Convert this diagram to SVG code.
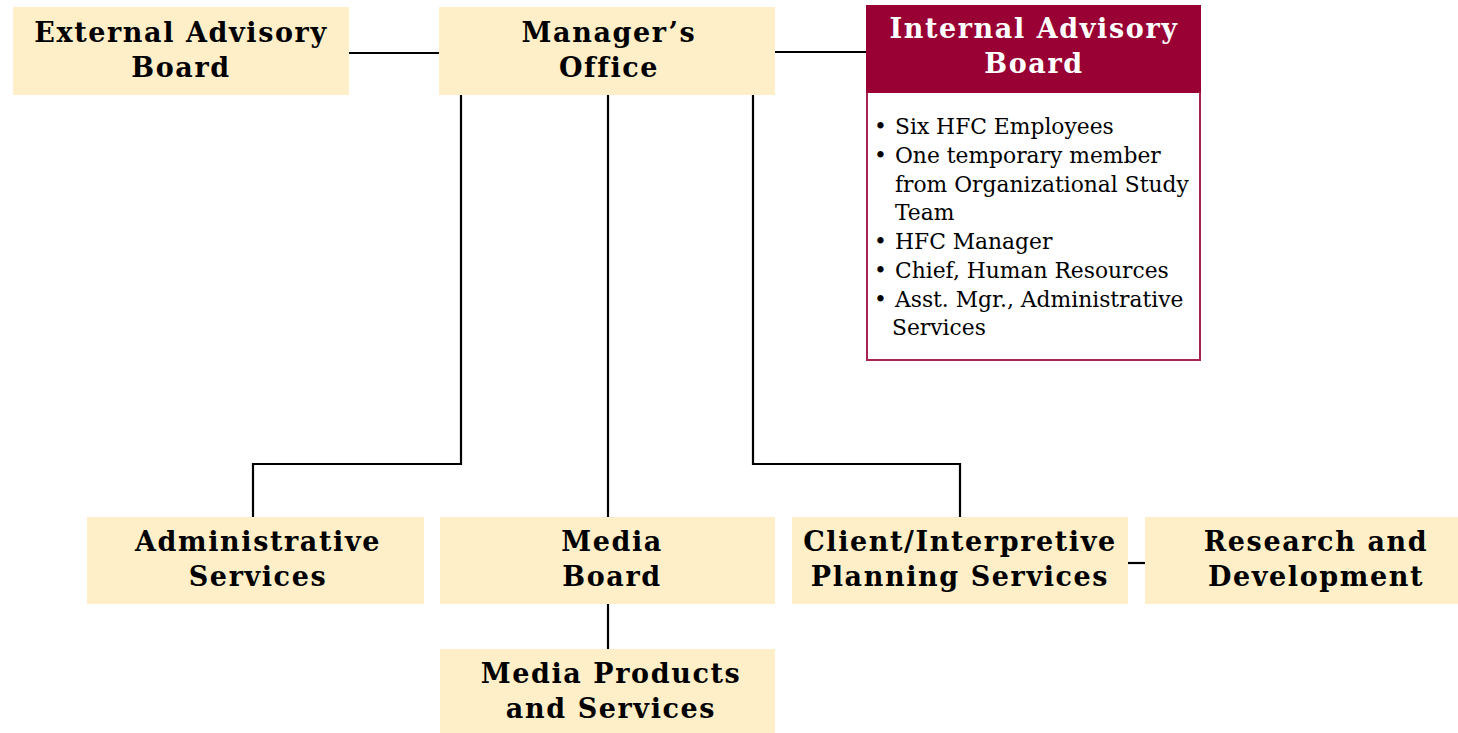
<svg xmlns="http://www.w3.org/2000/svg" width="1458" height="733" viewBox="0 0 1458 733">
<style>
.box{fill:#FEEFC8}
.t{font-family:"DejaVu Serif","Liberation Serif",serif;font-weight:bold;font-size:27px;letter-spacing:1.6px;text-anchor:middle;fill:#000}
.w{fill:#fff}
.b{font-family:"DejaVu Serif","Liberation Serif",serif;font-size:21.8px;fill:#000}
.c{stroke:#000;stroke-width:2.2;fill:none}
</style>
<rect width="1458" height="733" fill="#fff"/>
<g id="connectors">
<line class="c" x1="349" y1="53" x2="439" y2="53"/>
<line class="c" x1="775" y1="52" x2="866" y2="52"/>
<polyline class="c" points="461,95 461,464 253,464 253,517"/>
<line class="c" x1="608" y1="95" x2="608" y2="517"/>
<polyline class="c" points="753,95 753,464 960,464 960,517"/>
<line class="c" x1="608" y1="604" x2="608" y2="649"/>
<line class="c" x1="1128" y1="563" x2="1145" y2="563"/>
</g>
<g id="external">
<rect class="box" x="13" y="7" width="336" height="88"/>
<text class="t" x="181" y="42">External Advisory</text>
<text class="t" x="181" y="77">Board</text>
</g>
<g id="manager">
<rect class="box" x="439" y="7" width="336" height="88"/>
<text class="t" x="609" y="42">Manager’s</text>
<text class="t" x="609" y="77">Office</text>
</g>
<g id="internal">
<rect x="867" y="92" width="333" height="268" fill="#fff" stroke="#A8244E" stroke-width="2"/>
<rect x="866" y="5" width="335" height="88" fill="#990033"/>
<text class="t w" x="1034" y="38">Internal Advisory</text>
<text class="t w" x="1034" y="73">Board</text>
<text class="b" x="874" y="134">•</text><text class="b" x="895" y="134">Six HFC Employees</text>
<text class="b" x="874" y="163">•</text><text class="b" x="895" y="163">One temporary member</text>
<text class="b" x="895" y="192">from Organizational Study</text>
<text class="b" x="895" y="220">Team</text>
<text class="b" x="874" y="249">•</text><text class="b" x="895" y="249">HFC Manager</text>
<text class="b" x="874" y="278">•</text><text class="b" x="895" y="278">Chief, Human Resources</text>
<text class="b" x="874" y="307">•</text><text class="b" x="895" y="307">Asst. Mgr., Administrative</text>
<text class="b" x="892" y="335">Services</text>
</g>
<g id="admin">
<rect class="box" x="87" y="517" width="337" height="87"/>
<text class="t" x="258" y="551">Administrative</text>
<text class="t" x="258" y="586">Services</text>
</g>
<g id="mediaboard">
<rect class="box" x="440" y="517" width="335" height="87"/>
<text class="t" x="612" y="551">Media</text>
<text class="t" x="612" y="586">Board</text>
</g>
<g id="client">
<rect class="box" x="792" y="517" width="336" height="87"/>
<text class="t" x="960" y="551">Client/Interpretive</text>
<text class="t" x="960" y="586">Planning Services</text>
</g>
<g id="research">
<rect class="box" x="1145" y="517" width="336" height="87"/>
<text class="t" x="1316" y="551">Research and</text>
<text class="t" x="1316" y="586">Development</text>
</g>
<g id="mediaproducts">
<rect class="box" x="440" y="649" width="335" height="86"/>
<text class="t" x="611" y="683">Media Products</text>
<text class="t" x="611" y="718">and Services</text>
</g>
</svg>
